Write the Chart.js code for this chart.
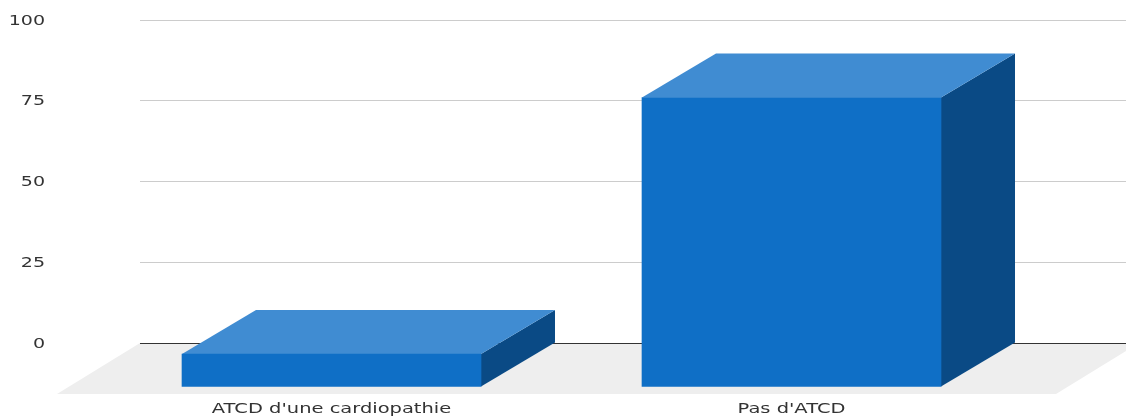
<!DOCTYPE html>
<html>
<head>
<meta charset="utf-8">
<style>html,body{margin:0;padding:0;background:#fff}canvas{display:block}</style>
<script src="https://cdn.jsdelivr.net/npm/chart.js@4"></script>
</head>
<body>
<canvas id="c" width="1126" height="416"></canvas>
<script>
const categories = ["ATCD d'une cardiopathie", "Pas d'ATCD"];
const values = [10.2, 89.6];
const yTicks = [0, 25, 50, 75, 100];

const DEPTH = {dx: -74, dy: 44};
const FLOOR = {dx: -83, dy: 51, over: 13};
const COLORS = {front: '#0f6fc6', top: '#408cd2', side: '#0a4a85', floor: '#eeeeee'};
const TEXT_STRETCH = {x: 1.39, y: 1.36};
const TEXT_SHIFT = {x: 0, y: 1};

function poly(ctx, pts, color) {
  ctx.fillStyle = color;
  ctx.beginPath();
  pts.forEach((p, i) => i ? ctx.lineTo(p[0], p[1]) : ctx.moveTo(p[0], p[1]));
  ctx.closePath();
  ctx.fill();
}

const threeD = {
  id: 'threeD',
  beforeDraw(chart) {
    const ctx = chart.ctx, x = chart.scales.x, y0 = chart.scales.y.getPixelForValue(0);
    poly(ctx, [
      [x.left, y0], [x.right + FLOOR.over, y0],
      [x.right + FLOOR.over + FLOOR.dx, y0 + FLOOR.dy], [x.left + FLOOR.dx, y0 + FLOOR.dy]
    ], COLORS.floor);
    // stretch axis text horizontally, as in the reference
    Object.values(chart.scales).forEach(s => {
      if (s._wrapped) return;
      s._wrapped = true;
      const orig = s.drawLabels.bind(s);
      const k = TEXT_STRETCH[s.axis], shift = TEXT_SHIFT[s.axis];
      s.drawLabels = area => {
        const real = ctx.fillText;
        ctx.fillText = function (t, px, py) {
          ctx.save();
          ctx.scale(k, 1);
          real.call(ctx, t, px / k, py + shift);
          ctx.restore();
        };
        orig(area);
        delete ctx.fillText;
      };
    });
  },
  beforeDatasetDraw(chart, args) {
    const ctx = chart.ctx, {dx, dy} = DEPTH;
    chart.getDatasetMeta(args.index).data.forEach(b => {
      const l = b.x - b.width / 2, r = b.x + b.width / 2;
      poly(ctx, [[r, b.y], [r, b.base], [r + dx, b.base + dy], [r + dx, b.y + dy]], COLORS.side);
      poly(ctx, [[l, b.y], [r, b.y], [r + dx, b.y + dy], [l + dx, b.y + dy]], COLORS.top);
    });
    ctx.save();
    ctx.translate(dx, dy);
  },
  afterDatasetDraw(chart) { chart.ctx.restore(); }
};

new Chart(document.getElementById('c'), {
  type: 'bar',
  data: {
    datasets: [{
      data: values.map((v, i) => ({x: i, y: v})),
      backgroundColor: COLORS.front,
      borderWidth: 0,
      barThickness: 299,
      clip: false
    }]
  },
  plugins: [threeD],
  options: {
    responsive: false,
    animation: false,
    layout: {padding: {top: 20, left: 0, right: 0, bottom: 0}},
    plugins: {legend: {display: false}, tooltip: {enabled: false}},
    scales: {
      x: {
        type: 'linear',
        offset: false,
        min: -0.5772,
        max: 1.5663,
        grid: {display: false, drawTicks: false, offset: false},
        border: {display: false},
        afterBuildTicks: s => { s.ticks = categories.map((_, i) => ({value: i})); },
        afterFit: s => { s.height = 73; s.paddingLeft = 0; s.paddingRight = 0; },
        ticks: {
          autoSkip: false,
          maxRotation: 0,
          padding: 58,
          labelOffset: DEPTH.dx,
          color: '#333',
          font: {family: 'DejaVu Sans', size: 14},
          callback: v => categories[v]
        }
      },
      y: {
        min: 0,
        max: 100,
        afterBuildTicks: s => { s.ticks = yTicks.map(v => ({value: v})); },
        afterFit: s => { s.width = 140; s.paddingTop = 0; s.paddingBottom = 0; },
        grid: {
          color: c => c.tick.value === 0 ? '#333333' : '#cccccc',
          lineWidth: 1,
          drawTicks: false
        },
        border: {display: false},
        ticks: {
          padding: 95,
          color: '#333',
          font: {family: 'DejaVu Sans', size: 14}
        }
      }
    }
  }
});
</script>
</body>
</html>
